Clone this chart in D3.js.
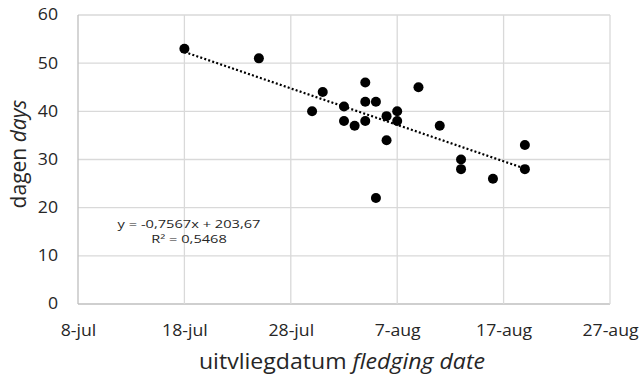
<!DOCTYPE html>
<html>
<head>
<meta charset="utf-8">
<script src="https://cdn.jsdelivr.net/npm/d3@7"></script>
<style>
  body { margin: 0; background: #fff; }
  text { font-family: "Open Sans", "Noto Sans", sans-serif; fill: #262626; }
</style>
</head>
<body>
<div id="chart"></div>
<script>
// fledging dates (day-month) and number of days
const fledgeDates = ["18-07","25-07","30-07","31-07","02-08","02-08","03-08","04-08","04-08","04-08",
                     "05-08","05-08","06-08","06-08","07-08","07-08","09-08","11-08","13-08","13-08",
                     "16-08","19-08","19-08"];
const dayCounts  = [53, 51, 40, 44, 41, 38, 37, 46, 42, 38,
                     42, 22, 39, 34, 40, 38, 45, 37, 30, 28,
                     26, 33, 28];
const xTickLabels = ["8-jul","18-jul","28-jul","7-aug","17-aug","27-aug"];
const yTicks = [0, 10, 20, 30, 40, 50, 60];
// Excel trendline (x = Excel date serial)
const trendSlope = -0.7567;
const trendIntercept = 203.67;
const trendText = ["y = -0,7567x + 203,67", "R\u00b2 = 0,5468"];

const parse = d3.timeParse("%d-%m-%Y");
const toDate = s => parse(s + "-2015");
const tickDate = s => {
  const [d, m] = s.split("-");
  return parse(`${d.padStart(2,"0")}-${m === "jul" ? "07" : "08"}-2015`);
};
const points = fledgeDates.map((s, i) => ({ date: toDate(s), days: dayCounts[i] }));
// Excel 1900 serial: day of year + 1 (leap-year bug)
const serial = d => d3.timeDay.count(d3.timeYear(d), d) + 2;

const W = 641, H = 379;
const margin = { top: 15, right: 31, bottom: 75, left: 78 };
const width = W - margin.left - margin.right;
const height = H - margin.top - margin.bottom;
const stretch = 1.14; // text in the original is a bit wide

const svg = d3.select("#chart").append("svg")
    .attr("width", W)
    .attr("height", H);
const g = svg.append("g")
    .attr("transform", `translate(${margin.left},${margin.top})`);

const xTicks = xTickLabels.map(tickDate);
const x = d3.scaleTime()
    .domain([xTicks[0], xTicks[xTicks.length - 1]])
    .range([0, width]);
const y = d3.scaleLinear()
    .domain([0, 60])
    .range([height, 0]);

// gridlines
g.selectAll(".hgrid")
    .data(yTicks)
    .enter().append("line")
    .attr("x1", 0).attr("x2", width)
    .attr("y1", d => y(d)).attr("y2", d => y(d))
    .attr("stroke", d => d === 0 ? "#bfbfbf" : "#d9d9d9")
    .attr("stroke-width", 1.3);
g.selectAll(".vgrid")
    .data(xTicks)
    .enter().append("line")
    .attr("x1", d => x(d)).attr("x2", d => x(d))
    .attr("y1", 0).attr("y2", height)
    .attr("stroke", (d, i) => i === 0 ? "#bfbfbf" : "#d9d9d9")
    .attr("stroke-width", 1.3);

// x axis
g.append("g")
    .attr("transform", `translate(0,${height})`)
    .call(d3.axisBottom(x).tickValues(xTicks).tickFormat((d, i) => xTickLabels[i]).tickSize(0).tickPadding(21))
    .call(a => a.select(".domain").remove())
    .call(a => a.selectAll("text")
        .attr("font-size", 15.5).attr("font-family", null).attr("fill", "#262626")
        .attr("transform", `scale(${stretch},1)`));

// y axis
g.append("g")
    .call(d3.axisLeft(y).tickValues(yTicks).tickSize(0).tickPadding(20))
    .call(a => a.select(".domain").remove())
    .call(a => a.selectAll("text")
        .attr("font-size", 15.5).attr("font-family", null).attr("fill", "#262626")
        .attr("x", -20 / stretch)
        .attr("transform", `scale(${stretch},1)`));

// trendline
const first = d3.min(points, d => d.date), last = d3.max(points, d => d.date);
const trend = [first, last].map(d => ({ date: d, days: trendSlope * serial(d) + trendIntercept }));
g.append("path")
    .datum(trend)
    .attr("fill", "none")
    .attr("stroke", "#000")
    .attr("stroke-width", 2.2)
    .attr("stroke-dasharray", "2,2.2")
    .attr("d", d3.line().x(d => x(d.date)).y(d => y(d.days)));

// points
g.selectAll("circle")
    .data(points)
    .enter().append("circle")
    .attr("cx", d => x(d.date))
    .attr("cy", d => y(d.days))
    .attr("r", 5)
    .attr("fill", "#000");

// trend equation
g.selectAll(".eq")
    .data(trendText)
    .enter().append("text")
    .attr("class", "eq")
    .attr("text-anchor", "middle")
    .attr("font-size", 11)
    .attr("transform", (d, i) => `translate(111,${212.5 + i * 15.5}) scale(1.33,1)`)
    .text(d => d);

// axis titles
const xt = svg.append("text")
    .attr("transform", `translate(${margin.left + width / 2 - 2},369) scale(1.1,1)`)
    .attr("text-anchor", "middle")
    .attr("font-size", 21);
xt.append("tspan").text("uitvliegdatum ");
xt.append("tspan").attr("font-style", "italic").text("fledging date");

const yt = svg.append("text")
    .attr("transform", `translate(26,154) rotate(-90)`)
    .attr("text-anchor", "middle")
    .attr("font-size", 21);
yt.append("tspan").text("dagen ");
yt.append("tspan").attr("font-style", "italic").text("days");
</script>
</body>
</html>
